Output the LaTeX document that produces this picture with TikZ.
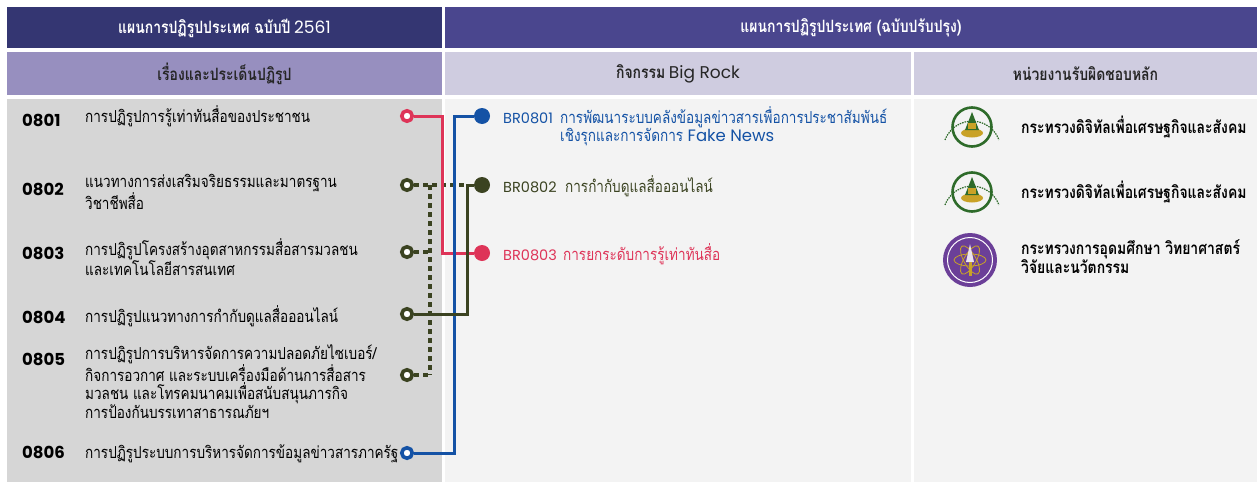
\documentclass[tikz,border=0pt]{standalone}
\usepackage{fontspec}
\setmainfont{Poppins}
\newfontfamily\thfont[Script=Thai,FakeStretch=0.82]{Loma}
\definecolor{hdleft}{HTML}{343672}
\definecolor{hdright}{HTML}{4A468E}
\definecolor{subleft}{HTML}{978FBF}
\definecolor{subright}{HTML}{CFCCE0}
\definecolor{bodyleft}{HTML}{D6D6D6}
\definecolor{bodyright}{HTML}{F3F3F3}
\definecolor{linkred}{HTML}{DE3458}
\definecolor{linkblue}{HTML}{1452A5}
\definecolor{linkolive}{HTML}{3B4321}
\definecolor{logogreen}{HTML}{2E6B2A}
\definecolor{logogold}{HTML}{C9A227}
\definecolor{logopurple}{HTML}{6B3F98}
\tikzset{
  hdtext/.style={inner sep=0,font=\bfseries\fontsize{17}{18}\selectfont},
  codetext/.style={anchor=base west,inner sep=0,font=\bfseries\fontsize{16.5}{18}\selectfont},
  itemtext/.style={anchor=base west,inner sep=0,align=left,font=\thfont\fontsize{16.5}{17.8}\selectfont},
  brtext/.style={anchor=base west,inner sep=0,align=left,font=\fontsize{14.5}{18.5}\selectfont},
  brthai/.style={anchor=base west,inner sep=0,align=left,font=\thfont\fontsize{16.5}{18.5}\selectfont},
  orgtext/.style={anchor=base west,inner sep=0,align=left,font=\thfont\bfseries\fontsize{17}{19}\selectfont},
  opendot/.style={circle,draw=#1,line width=3.6,fill=white,minimum size=10.5,inner sep=0},
  fulldot/.style={circle,fill=#1,minimum size=16,inner sep=0},
  link/.style={line width=3},
  dashlink/.style={line width=4,linkolive,dash pattern=on 5 off 4}
}
\begin{document}
\begin{tikzpicture}[x=1pt,y=-1pt]
\useasboundingbox (0,0) rectangle (1257,482);
\fill[white] (0,0) rectangle (1257,482);
% header bands
\fill[hdleft] (7,7) rectangle (442,48);
\fill[hdright] (445,7) rectangle (1257,48);
\fill[subleft] (7,52) rectangle (442,95);
\fill[subright] (445,52) rectangle (911,95);
\fill[subright] (914,52) rectangle (1257,95);
\fill[bodyleft] (7,99) rectangle (442,482);
\fill[bodyright] (445,99) rectangle (911,482);
\fill[bodyright] (914,99) rectangle (1257,482);
\node[hdtext,white] (plan61) at (224.5,28) {{\thfont แผนการปฏิรูปประเทศ ฉบับปี} {\mdseries 2561}};
\node[hdtext,white] (planrev) at (851,28) {{\thfont แผนการปฏิรูปประเทศ (ฉบับปรับปรุง)}};
\node[hdtext,black!85] (issues) at (224.5,73.5) {{\thfont เรื่องและประเด็นปฏิรูป}};
\node[hdtext,black!85] (bigrock) at (678,73.5) {{\thfont กิจกรรม} {\mdseries Big Rock}};
\node[hdtext,black!85] (agency) at (1085.5,73.5) {{\thfont หน่วยงานรับผิดชอบหลัก}};
% reform issues (multi-line nodes sit on their last line)
\node[codetext] (n0801) at (22,126) {0801};
\node[codetext] (n0802) at (22,195) {0802};
\node[codetext] (n0803) at (22,259) {0803};
\node[codetext] (n0804) at (22,323) {0804};
\node[codetext] (n0805) at (22,365) {0805};
\node[codetext] (n0806) at (22,458) {0806};
\node[itemtext] (t0801) at (85,122) {การปฏิรูปการรู้เท่าทันสื่อของประชาชน};
\node[itemtext] (t0802) at (85,209.8) {แนวทางการส่งเสริมจริยธรรมและมาตรฐาน\\วิชาชีพสื่อ};
\node[itemtext] (t0803) at (85,275.8) {การปฏิรูปโครงสร้างอุตสาหกรรมสื่อสารมวลชน\\และเทคโนโลยีสารสนเทศ};
\node[itemtext] (t0804) at (85,322) {การปฏิรูปแนวทางการกำกับดูแลสื่อออนไลน์};
\node[itemtext] (t0805) at (85,418.4) {การปฏิรูปการบริหารจัดการความปลอดภัยไซเบอร์/\\กิจการอวกาศ และระบบเครื่องมือด้านการสื่อสาร\\มวลชน และโทรคมนาคมเพื่อสนับสนุนภารกิจ\\การป้องกันบรรเทาสาธารณภัยฯ};
\node[itemtext] (t0806) at (85,458) {การปฏิรูประบบการบริหารจัดการข้อมูลข่าวสารภาครัฐ};
% big rock activities
\node[brtext,linkblue] (br0801) at (503,123) {BR0801};
\node[brthai,linkblue] (tb0801) at (560,141.5) {การพัฒนาระบบคลังข้อมูลข่าวสารเพื่อการประชาสัมพันธ์\\เชิงรุกและการจัดการ {\rmfamily Fake News}};
\node[brtext,linkolive] (br0802) at (503,192) {BR0802};
\node[brthai,linkolive] (tb0802) at (565,192) {การกำกับดูแลสื่อออนไลน์};
\node[brtext,linkred] (br0803) at (503,260) {BR0803};
\node[brthai,linkred] (tb0803) at (563,260) {การยกระดับการรู้เท่าทันสื่อ};
% agencies
\node[orgtext] (org1) at (1021,133) {กระทรวงดิจิทัลเพื่อเศรษฐกิจและสังคม};
\node[orgtext] (org2) at (1021,198) {กระทรวงดิจิทัลเพื่อเศรษฐกิจและสังคม};
\node[orgtext] (org3) at (1021,273) {กระทรวงการอุดมศึกษา วิทยาศาสตร์\\วิจัยและนวัตกรรม};
% logos
\foreach \y in {127,192} {
  \draw[logogreen,line width=2.6] (972,\y) circle (19.5);
  \fill[logogold] (972,\y+6) ellipse (11 and 4.5);
  \fill[logogreen] (972,\y-15) -- (965,\y+3) -- (979,\y+3) -- cycle;
  \fill[logogold] (968,\y-4) rectangle (976,\y+2);
  \draw[logogreen,line width=1.2,dash pattern=on 1.5 off 1] (945,\y+13) arc (200:340:28.7);
}
\fill[logopurple] (970,260) circle (27);
\draw[white,line width=1] (970,260) circle (22.5);
\draw[logogold,line width=0.8] (970,260) ellipse (16 and 6);
\draw[logogold,line width=0.8,rotate around={60:(970,260)}] (970,260) ellipse (16 and 6);
\draw[logogold,line width=0.8,rotate around={-60:(970,260)}] (970,260) ellipse (16 and 6);
\fill[white!85!logopurple] (970,244) -- (966,262) -- (974,262) -- cycle;
\fill[logogold] (968.5,262) rectangle (971.5,276);
% link dots
\node[opendot=linkred] (c0801) at (407,116) {};
\node[opendot=linkolive] (c0802) at (407,185) {};
\node[opendot=linkolive] (c0803) at (407,252) {};
\node[opendot=linkolive] (c0804) at (407,314) {};
\node[opendot=linkolive] (c0805) at (407,375) {};
\node[opendot=linkblue] (c0806) at (407,453) {};
\node[fulldot=linkblue] (b0801) at (482,116) {};
\node[fulldot=linkolive] (b0802) at (482,185) {};
\node[fulldot=linkred] (b0803) at (482,253) {};
\coordinate (jred) at (442,253);
\coordinate (jblue) at (454,116);
\coordinate (jolive) at (467,185);
\coordinate (jdtop) at (430,185);
\coordinate (jdbot) at (430,375);
% connectors
\draw[dashlink] (c0802) -- (jolive);
\draw[dashlink] (jdtop) -- (jdbot);
\draw[dashlink] (c0803) -- (jdtop |- c0803);
\draw[dashlink] (c0805) -- (jdbot);
\draw[link,linkred] (c0801) -| (jred) -- (b0803);
\draw[link,linkblue] (c0806) -| (jblue) -- (b0801);
\draw[link,linkolive] (c0804) -| (jolive) -- (b0802);
\end{tikzpicture}
\end{document}
